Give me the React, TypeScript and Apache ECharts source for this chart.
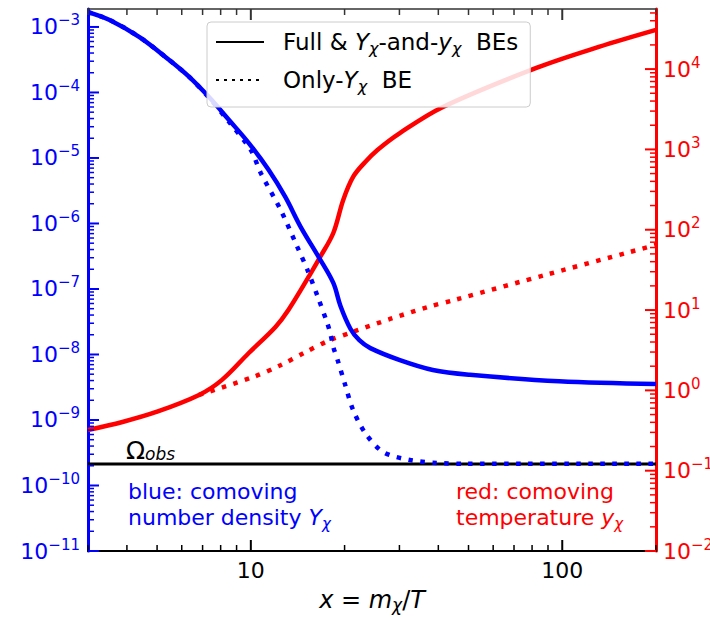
import React, { useEffect, useRef } from 'react';
import * as echarts from 'echarts';

const FONT = 'DejaVu Sans';

const xRange = [3, 200];
const leftRange = [1e-11, 1.88e-3];
const rightRange = [1e-2, 5.6e4];

// blue: comoving number density Y_chi, full BEs
const blueFullX = [3, 3.52, 4.39, 5.47, 6.34, 7.34, 8.51, 9.85, 11.4, 12.9, 14.45, 16.5, 18.4, 19.4, 20.9, 22.3, 24.2, 30.1, 38.4, 50.5, 97.7, 200];
const blueFullY = [1.69e-3, 1.28e-3, 7.0e-4, 3.13e-4, 1.73e-4, 8.5e-5, 3.8e-5, 1.69e-5, 6.6e-6, 2.54e-6, 8.9e-7, 3.1e-7, 1.24e-7, 5.5e-8, 2.45e-8, 1.65e-8, 1.25e-8, 8.2e-9, 5.8e-9, 4.9e-9, 3.9e-9, 3.55e-9];

// blue: only-Y_chi BE
const blueOnlyX = [3, 3.52, 4.39, 5.47, 6.34, 7.34, 8.51, 10.0, 10.76, 12.47, 14.1, 15.2, 16.4, 17.6, 18.0, 18.4, 19.0, 20.1, 21.3, 23.3, 26.6, 32.4, 39.6, 49.3, 200];
const blueOnlyY = [1.69e-3, 1.28e-3, 7.0e-4, 3.13e-4, 1.73e-4, 8.3e-5, 3.55e-5, 1.32e-5, 5.9e-6, 1.61e-6, 4.4e-7, 1.95e-7, 7.6e-8, 3.0e-8, 2.1e-8, 1.3e-8, 8.2e-9, 3.4e-9, 1.42e-9, 6.3e-10, 3.24e-10, 2.45e-10, 2.21e-10, 2.15e-10, 2.15e-10];

// red: comoving temperature y_chi, full BEs
const redFullX = [3, 3.87, 4.97, 6.82, 8.08, 9.85, 12.0, 13.2, 15.6, 16.7, 18.4, 19.8, 21.3, 23.3, 25.5, 30.1, 41.4, 82.6, 131, 200];
const redFullY = [0.321, 0.404, 0.538, 0.877, 1.35, 2.92, 6.16, 10.0, 29, 45.8, 91, 235, 455, 698, 986, 1600, 3380, 10350, 18900, 30800];

// red: only-Y_chi BE
const redOnlyX = [6.82, 10.2, 12.5, 14.8, 17.7, 21.2, 28.0, 37.0, 45.2, 90.8, 200];
const redOnlyY = [0.877, 1.47, 2.07, 2.92, 4.12, 5.33, 7.74, 10.9, 13.4, 28.2, 64.7];

// observed relic abundance line
const omegaObsX = [3, 200];
const omegaObsY = [2.13e-10, 2.13e-10];

const zip = (xs: number[], ys: number[]) => xs.map((x, i) => [x, ys[i]]);

// log-axis tick positions (axis decoration)
const logTicks = (lo: number, hi: number) => {
  const out: number[][] = [];
  const e0 = Math.floor(Math.log10(lo));
  const e1 = Math.ceil(Math.log10(hi));
  for (let e = e0; e <= e1; e++) {
    for (let k = 1; k <= 9; k++) {
      const v = k * Math.pow(10, e);
      if (v >= lo * 0.9999 && v <= hi * 1.0001) out.push([v, k === 1 ? 1 : 0]);
    }
  }
  return out;
};

const isDecade = (v: number) => {
  const e = Math.log10(v);
  return Math.abs(e - Math.round(e)) < 1e-6;
};

const powLabel = (v: number) => {
  if (!isDecade(v)) return '';
  const e = Math.round(Math.log10(v));
  return `{b|10}{s|${e < 0 ? '\u2212' : ''}${Math.abs(e)}}`;
};

const powRich = (color: string) => ({
  b: { fontFamily: FONT, fontSize: 22, lineHeight: 28, color },
  s: { fontFamily: FONT, fontSize: 15, lineHeight: 16, verticalAlign: 'top', color },
});

const MAJ = 11;
const MIN = 6;

export default function App() {
  const ref = useRef<HTMLDivElement>(null);

  useEffect(() => {
    if (!ref.current) return;
    const chart = echarts.init(ref.current, undefined, { renderer: 'svg' });

    const xTicks = logTicks(xRange[0], xRange[1]);
    const lTicks = logTicks(leftRange[0], leftRange[1]);
    const rTicks = logTicks(rightRange[0], rightRange[1]);

    const tickSeries = (
      data: number[][],
      yIdx: number,
      color: string,
      dir: 'right' | 'left' | 'up' | 'down'
    ) => ({
      type: 'custom',
      xAxisIndex: 0,
      yAxisIndex: yIdx,
      silent: true,
      clip: false,
      z: 5,
      data,
      renderItem: (_p: any, api: any) => {
        const c = api.coord([api.value(0), api.value(1)]);
        const major = api.value(2) === 1;
        const len = major ? MAJ : MIN;
        let x2 = c[0];
        let y2 = c[1];
        if (dir === 'right') x2 += len;
        if (dir === 'left') x2 -= len;
        if (dir === 'up') y2 -= len;
        if (dir === 'down') y2 += len;
        return {
          type: 'line',
          shape: { x1: c[0], y1: c[1], x2, y2 },
          style: { stroke: color, lineWidth: major ? 2 : 1.5 },
        };
      },
    });

    const option: any = {
      animation: false,
      backgroundColor: '#ffffff',
      grid: { left: 88, right: 54, top: 9, bottom: 66, containLabel: false, outerBoundsMode: 'none' },
      xAxis: [
        {
          type: 'log',
          logBase: 10,
          min: xRange[0],
          max: xRange[1],
          position: 'bottom',
          axisLine: { show: true, lineStyle: { color: '#000', width: 2 } },
          axisTick: { show: false },
          splitLine: { show: false },
          axisLabel: {
            margin: 8,
            fontFamily: FONT,
            fontSize: 22,
            color: '#000',
            formatter: (v: number) => (isDecade(v) ? String(Math.round(v)) : ''),
          },
          name: '{i|x} = {i|m}{sub|\u03c7}/{i|T}',
          nameLocation: 'middle',
          nameGap: 33,
          nameTextStyle: {
            fontFamily: FONT,
            fontSize: 24,
            color: '#000',
            lineHeight: 28,
            rich: {
              i: { fontFamily: FONT, fontStyle: 'italic', fontSize: 24, lineHeight: 28, color: '#000' },
              sub: { fontFamily: FONT, fontStyle: 'italic', fontSize: 17, lineHeight: 18, verticalAlign: 'bottom', color: '#000' },
            },
          },
        },
        {
          type: 'log',
          logBase: 10,
          min: xRange[0],
          max: xRange[1],
          position: 'top',
          axisLine: { show: true, lineStyle: { color: '#333', width: 1.5 } },
          axisTick: { show: false },
          axisLabel: { show: false },
          splitLine: { show: false },
        },
      ],
      yAxis: [
        {
          type: 'log',
          logBase: 10,
          min: leftRange[0],
          max: leftRange[1],
          position: 'left',
          axisLine: { show: true, lineStyle: { color: 'blue', width: 3 } },
          axisTick: { show: false },
          splitLine: { show: false },
          axisLabel: { margin: 8, formatter: powLabel, rich: powRich('blue') },
        },
        {
          type: 'log',
          logBase: 10,
          min: rightRange[0],
          max: rightRange[1],
          position: 'right',
          axisLine: { show: true, lineStyle: { color: 'red', width: 3 } },
          axisTick: { show: false },
          splitLine: { show: false },
          axisLabel: { margin: 7, formatter: powLabel, rich: powRich('red') },
        },
      ],
      legend: {
        data: ['full', 'only'],
        orient: 'vertical',
        left: 207,
        top: 22,
        padding: [6, 12, 13, 8],
        itemWidth: 48,
        itemHeight: 14,
        itemGap: 10,
        selectedMode: false,
        itemStyle: { opacity: 0, borderWidth: 0 },
        backgroundColor: 'rgba(255,255,255,0.85)',
        borderColor: '#cccccc',
        borderWidth: 1,
        borderRadius: 4,
        formatter: (name: string) =>
          name === 'full'
            ? '{sp| }Full & {i|Y}{sub|\u03c7}-and-{i|y}{sub|\u03c7}  BEs'
            : '{sp| }Only-{i|Y}{sub|\u03c7}  BE',
        textStyle: {
          fontFamily: FONT,
          fontSize: 23,
          color: '#000',
          lineHeight: 28,
          rich: {
            sp: { width: 14, fontSize: 23, lineHeight: 28 },
            i: { fontFamily: FONT, fontStyle: 'italic', fontSize: 23, lineHeight: 28, color: '#000' },
            sub: { fontFamily: FONT, fontStyle: 'italic', fontSize: 16, lineHeight: 18, verticalAlign: 'bottom', color: '#000' },
          },
        },
      },
      graphic: [
        {
          type: 'text',
          x: 126,
          y: 450,
          silent: true,
          style: {
            text: '\u03a9{sub|obs}',
            fontFamily: FONT,
            fontSize: 25,
            fill: '#000',
            textVerticalAlign: 'middle',
            rich: {
              sub: { fontFamily: FONT, fontStyle: 'italic', fontSize: 17, lineHeight: 18, verticalAlign: 'bottom', fill: '#000', color: '#000' },
            },
          },
        },
        {
          type: 'text', x: 128, y: 491, silent: true,
          style: { text: 'blue: comoving', fontFamily: FONT, fontSize: 22, fill: 'blue', textVerticalAlign: 'middle' },
        },
        {
          type: 'text', x: 128, y: 517, silent: true,
          style: {
            text: 'number density {i|Y}{sub|\u03c7}', fontFamily: FONT, fontSize: 22, fill: 'blue', textVerticalAlign: 'middle',
            rich: {
              i: { fontFamily: FONT, fontStyle: 'italic', fontSize: 22, lineHeight: 28, color: 'blue', fill: 'blue' },
              sub: { fontFamily: FONT, fontStyle: 'italic', fontSize: 15, lineHeight: 18, verticalAlign: 'bottom', color: 'blue', fill: 'blue' },
            },
          },
        },
        {
          type: 'text', x: 456, y: 491, silent: true,
          style: { text: 'red: comoving', fontFamily: FONT, fontSize: 22, fill: 'red', textVerticalAlign: 'middle' },
        },
        {
          type: 'text', x: 456, y: 517, silent: true,
          style: {
            text: 'temperature {i|y}{sub|\u03c7}', fontFamily: FONT, fontSize: 22, fill: 'red', textVerticalAlign: 'middle',
            rich: {
              i: { fontFamily: FONT, fontStyle: 'italic', fontSize: 22, lineHeight: 28, color: 'red', fill: 'red' },
              sub: { fontFamily: FONT, fontStyle: 'italic', fontSize: 15, lineHeight: 18, verticalAlign: 'bottom', color: 'red', fill: 'red' },
            },
          },
        },
      ],
      series: [
        {
          name: 'omega',
          type: 'line',
          xAxisIndex: 0,
          yAxisIndex: 0,
          data: zip(omegaObsX, omegaObsY),
          symbol: 'none',
          lineStyle: { color: '#000', width: 3 },
          z: 2,
        },
        {
          name: 'redOnly',
          type: 'line',
          xAxisIndex: 0,
          yAxisIndex: 1,
          data: zip(redOnlyX, redOnlyY),
          symbol: 'none',
          smooth: 0.3,
          lineStyle: { color: 'red', width: 4.5, type: [4.5, 7.5], cap: 'butt' },
          z: 3,
        },
        {
          name: 'redFull',
          type: 'line',
          xAxisIndex: 0,
          yAxisIndex: 1,
          data: zip(redFullX, redFullY),
          symbol: 'none',
          smooth: 0.35,
          lineStyle: { color: 'red', width: 4.5 },
          z: 3,
        },
        {
          name: 'blueOnly',
          type: 'line',
          xAxisIndex: 0,
          yAxisIndex: 0,
          data: zip(blueOnlyX, blueOnlyY),
          symbol: 'none',
          smooth: 0.3,
          lineStyle: { color: 'blue', width: 4.5, type: [4.5, 7.5], cap: 'butt' },
          z: 3,
        },
        {
          name: 'blueFull',
          type: 'line',
          xAxisIndex: 0,
          yAxisIndex: 0,
          data: zip(blueFullX, blueFullY),
          symbol: 'none',
          smooth: 0.35,
          lineStyle: { color: 'blue', width: 4.5 },
          z: 3,
        },
        {
          name: 'full',
          type: 'line',
          data: [],
          symbol: 'none',
          lineStyle: { color: '#000', width: 3 },
          itemStyle: { color: '#000', opacity: 0 },
        },
        {
          name: 'only',
          type: 'line',
          data: [],
          symbol: 'none',
          lineStyle: { color: '#000', width: 3, type: [3, 5], cap: 'butt' },
          itemStyle: { color: '#000', opacity: 0 },
        },
        tickSeries(xTicks.map((t) => [t[0], leftRange[0], t[1]]), 0, '#000', 'up'),
        tickSeries(xTicks.map((t) => [t[0], leftRange[1], t[1]]), 0, '#333', 'down'),
        tickSeries(lTicks.map((t) => [xRange[0], t[0], t[1]]), 0, 'blue', 'right'),
        tickSeries(rTicks.map((t) => [xRange[1], t[0], t[1]]), 1, 'red', 'left'),
      ],
    };

    chart.setOption(option);
    return () => chart.dispose();
  }, []);

  return (
    <div
      ref={ref}
      style={{ position: 'fixed', left: 0, top: 0, width: 710, height: 617, background: '#fff' }}
    />
  );
}
